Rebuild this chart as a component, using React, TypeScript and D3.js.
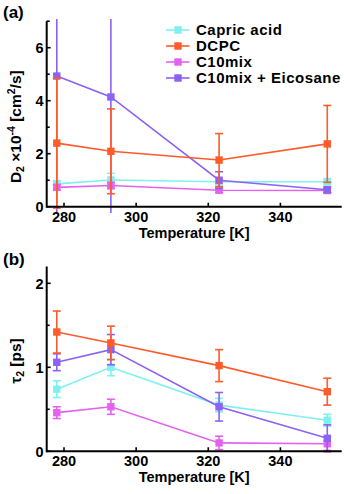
import React from "react";
import * as d3 from "d3";

// temperatures (K)
const temps = [278, 293, 323, 353];

const seriesNames = ["Capric acid", "DCPC", "C10mix", "C10mix + Eicosane"];
const seriesColors = ["#7ff0f0", "#ff5a2a", "#e462f0", "#8c62f2"];

// panel (a): D2 x10^-4 [cm^2/s]
const capricD2 = [0.86, 1.01, 0.94, 0.94];
const capricD2Err = [0.12, 0.25, 0.1, 0.12];
const dcpcD2 = [2.4, 2.09, 1.76, 2.37];
const dcpcD2Err = [2.45, 1.6, 1.0, 1.45];
const c10D2 = [0.73, 0.8, 0.62, 0.61];
const c10D2Err = [0.1, 0.12, 0.08, 0.08];
const eicD2 = [4.93, 4.14, 1.0, 0.64];
const eicD2Err = [7.5, 7.5, 0.32, 0.1];

// panel (b): tau2 [ps]
const capricTau = [0.74, 1.0, 0.55, 0.37];
const capricTauErr = [0.1, 0.1, 0.08, 0.07];
const dcpcTau = [1.42, 1.29, 1.02, 0.71];
const dcpcTauErr = [0.25, 0.2, 0.19, 0.16];
const c10Tau = [0.46, 0.53, 0.1, 0.09];
const c10TauErr = [0.07, 0.09, 0.08, 0.08];
const eicTau = [1.06, 1.21, 0.53, 0.155];
const eicTauErr = [0.1, 0.18, 0.17, 0.16];

const xTicks = [280, 300, 320, 340];

const FONT = "'Liberation Sans', Arial, Helvetica, sans-serif";
// draw order: cyan, magenta, purple, DCPC on top
const drawOrder = [0, 2, 3, 1];

const x = d3.scaleLinear().domain([275.2, 357]).range([46.7, 341.7]);

function Panel({ y, values, errs, majors, minors, clampLo, clampHi }) {
    const y0 = y(0);
    const top = y.range()[1];
    return (
        <g>
            {drawOrder.map((si) => {
                const color = seriesColors[si];
                const pts = temps.map((t, i) => [x(t), y(values[si][i])]);
                const line = d3.line()(pts);
                return (
                    <g key={si}>
                        {temps.map((t, i) => {
                            const v = values[si][i];
                            const e = errs[si][i];
                            const hi = Math.min(v + e, clampHi);
                            const lo = Math.max(v - e, clampLo);
                            const cx = x(t);
                            return (
                                <g key={i} stroke={color} strokeWidth={1.6}>
                                    <line x1={cx} x2={cx} y1={y(lo)} y2={y(hi)} />
                                    {v + e <= clampHi && (
                                        <line x1={cx - 4} x2={cx + 4} y1={y(v + e)} y2={y(v + e)} />
                                    )}
                                    {v - e >= clampLo && (
                                        <line x1={cx - 4} x2={cx + 4} y1={y(v - e)} y2={y(v - e)} />
                                    )}
                                </g>
                            );
                        })}
                        <path d={line} fill="none" stroke={color} strokeWidth={1.6} />
                        {pts.map((p, i) => (
                            <rect key={i} x={p[0] - 3.7} y={p[1] - 3.7} width={7.4} height={7.4} fill={color} />
                        ))}
                    </g>
                );
            })}
            {/* axes */}
            <line x1={x.range()[0]} x2={x.range()[1]} y1={y0} y2={y0} stroke="#000" strokeWidth={2} />
            <line x1={x.range()[0]} x2={x.range()[0]} y1={y0 + 1} y2={top} stroke="#000" strokeWidth={2} />
            {xTicks.map((t) => (
                <g key={t}>
                    <line x1={x(t)} x2={x(t)} y1={y0} y2={y0 - 4} stroke="#000" strokeWidth={1.6} />
                    <text x={x(t)} y={y0 + 15} textAnchor="middle" fontSize={14.5} fontWeight="bold" fontFamily={FONT}>
                        {t}
                    </text>
                </g>
            ))}
            {majors.map((v) => (
                <g key={v}>
                    <line x1={x.range()[0]} x2={x.range()[0] + 4} y1={y(v)} y2={y(v)} stroke="#000" strokeWidth={1.6} />
                    <text x={43.5} y={y(v) + 5.2} textAnchor="end" fontSize={14.5} fontWeight="bold" fontFamily={FONT}>
                        {v}
                    </text>
                </g>
            ))}
            {minors.map((v) => (
                <line key={v} x1={x.range()[0]} x2={x.range()[0] + 3} y1={y(v)} y2={y(v)} stroke="#000" strokeWidth={1.6} />
            ))}
            <text x={194.2} y={y0 + 31} textAnchor="middle" fontSize={14.5} fontWeight="bold" fontFamily={FONT}>
                Temperature [K]
            </text>
        </g>
    );
}

export default function App() {
    const yA = d3.scaleLinear().domain([0, 7]).range([206.7, 21.2]);
    const yB = d3.scaleLinear().domain([0, 2.2]).range([451.3, 266.5]);

    const valsA = [capricD2, dcpcD2, c10D2, eicD2];
    const errsA = [capricD2Err, dcpcD2Err, c10D2Err, eicD2Err];
    const valsB = [capricTau, dcpcTau, c10Tau, eicTau];
    const errsB = [capricTauErr, dcpcTauErr, c10TauErr, eicTauErr];

    return (
        <svg
            width={344}
            height={494}
            style={{ position: "absolute", left: 0, top: 0, background: "#fff" }}
        >
            <Panel y={yA} values={valsA} errs={errsA} majors={[0, 2, 4, 6]} minors={[1, 3, 5, 7]} clampLo={-0.24} clampHi={7.08} />
            <Panel y={yB} values={valsB} errs={errsB} majors={[0, 1, 2]} minors={[0.5, 1.5]} clampLo={-0.06} clampHi={2.2} />

            {/* panel labels */}
            <text x={3} y={18} fontSize={17} fontWeight="bold" fontFamily={FONT}>(a)</text>
            <text x={3} y={265} fontSize={17} fontWeight="bold" fontFamily={FONT}>(b)</text>

            {/* y axis titles */}
            <text
                transform="translate(21,126.7) rotate(-90)"
                textAnchor="middle"
                fontSize={15.5}
                fontWeight="bold"
                fontFamily={FONT}
            >
                D<tspan fontSize={10.5} dy={3}>2</tspan>
                <tspan dy={-3}> ×10</tspan>
                <tspan fontSize={10.5} dy={-6}>-4</tspan>
                <tspan dy={6}> [cm</tspan>
                <tspan fontSize={10.5} dy={-6}>2</tspan>
                <tspan dy={6}>/s]</tspan>
            </text>
            <text
                transform="translate(21,361) rotate(-90)"
                textAnchor="middle"
                fontSize={15.5}
                fontWeight="bold"
                fontFamily={FONT}
            >
                τ<tspan fontSize={10.5} dy={3}>2</tspan>
                <tspan dy={-3}> [ps]</tspan>
            </text>

            {/* legend */}
            {seriesNames.map((name, i) => {
                const ly = 30 + i * 16;
                return (
                    <g key={name}>
                        <line x1={166} x2={189.5} y1={ly} y2={ly} stroke={seriesColors[i]} strokeWidth={1.6} />
                        <rect x={174.3} y={ly - 3.7} width={7.4} height={7.4} fill={seriesColors[i]} />
                        <text x={196} y={ly + 5.2} fontSize={15} letterSpacing={0.5} fontWeight="bold" fontFamily={FONT}>
                            {name}
                        </text>
                    </g>
                );
            })}
        </svg>
    );
}
